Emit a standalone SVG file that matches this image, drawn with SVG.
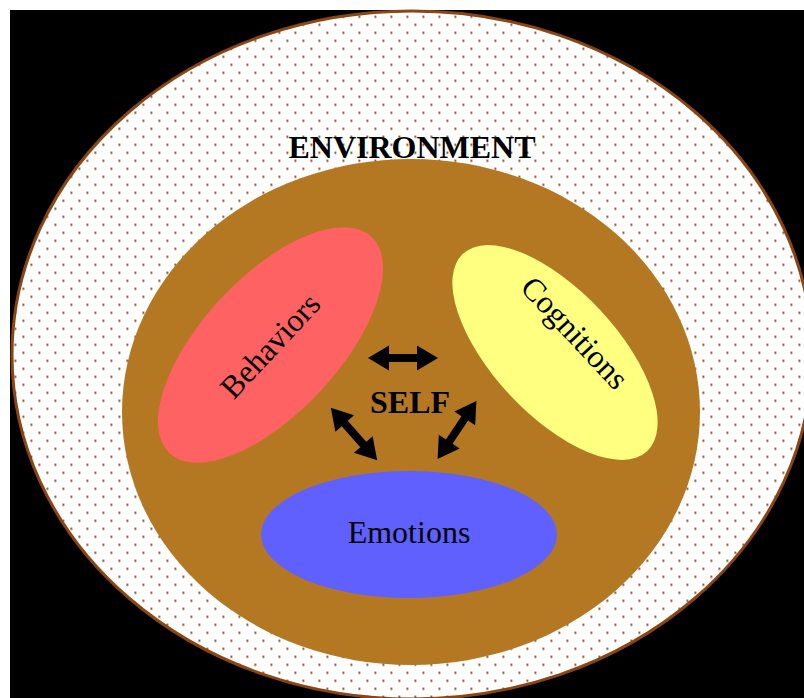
<svg xmlns="http://www.w3.org/2000/svg" width="804" height="698" viewBox="0 0 804 698">
<style>
.lbl{font-family:"Liberation Serif","Times New Roman",serif;font-size:32px;fill:#000;text-anchor:middle}
.b{font-weight:bold}
.arrow{fill:#000}
</style>
<defs>
<pattern id="dots" patternUnits="userSpaceOnUse" x="3" y="-3.6" width="16" height="16">
<rect x="3.4" y="3.4" width="2" height="2" fill="#7e3f1c"/>
<rect x="11.4" y="11.4" width="2" height="2" fill="#7e3f1c"/>
</pattern>
<path id="dbl" d="M-35,0 L-14,-12.5 L-14,-4 L14,-4 L14,-12.5 L35,0 L14,12.5 L14,4 L-14,4 L-14,12.5 Z"/>
</defs>
<rect x="0" y="0" width="804" height="698" fill="#ffffff"/>
<rect x="10" y="10" width="794" height="688" fill="#000000"/>
<g id="environment">
<ellipse cx="412" cy="355" rx="400" ry="344" fill="#ffffff"/>
<ellipse cx="412" cy="355" rx="400" ry="344" fill="url(#dots)" stroke="#8b4513" stroke-width="3"/>
<text class="lbl b" x="412" y="158">ENVIRONMENT</text>
</g>
<g id="self">
<ellipse cx="411" cy="412" rx="289" ry="253" fill="#b57822"/>
<text class="lbl b" x="410" y="413">SELF</text>
</g>
<g id="behaviors">
<ellipse cx="0" cy="0" rx="148" ry="68" fill="#ff6262" transform="translate(270.5,345) rotate(-47)"/>
<text class="lbl" transform="translate(278,353) rotate(-47)">Behaviors</text>
</g>
<g id="cognitions">
<ellipse cx="0" cy="0" rx="135" ry="62" fill="#ffff80" transform="translate(555,352.5) rotate(47)"/>
<text class="lbl" transform="translate(567,340) rotate(47)">Cognitions</text>
</g>
<g id="emotions">
<ellipse cx="409" cy="534.5" rx="148" ry="63.5" fill="#6060ff"/>
<text class="lbl" x="409" y="543">Emotions</text>
</g>
<g id="connectors">
<use href="#dbl" class="arrow" transform="translate(403,358)"/>
<use href="#dbl" class="arrow" transform="translate(354,434) rotate(48.5)"/>
<use href="#dbl" class="arrow" transform="translate(457,430) rotate(-56.3)"/>
</g>
</svg>
